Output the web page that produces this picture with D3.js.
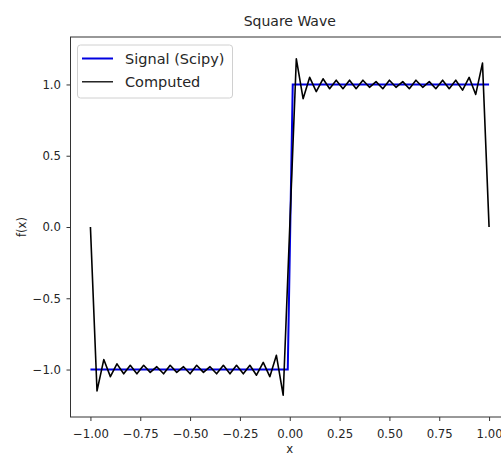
<!DOCTYPE html>
<html>
<head>
<meta charset="utf-8">
<script src="https://cdn.jsdelivr.net/npm/d3@7"></script>
<style>
body { margin: 0; background: #fff; }
text { font-family: "DejaVu Sans", sans-serif; fill: #262626; }
</style>
</head>
<body>
<script>
// sample points of the computed (fourier) curve
var xs = [-1, -0.967, -0.933, -0.9, -0.867, -0.833, -0.8, -0.767, -0.733, -0.7,
	-0.667, -0.633, -0.6, -0.567, -0.533, -0.5, -0.467, -0.433, -0.4, -0.367,
	-0.333, -0.3, -0.267, -0.233, -0.2, -0.167, -0.133, -0.1, -0.067, -0.033,
	0, 0.033, 0.067, 0.1, 0.133, 0.167, 0.2, 0.233, 0.267, 0.3,
	0.333, 0.367, 0.4, 0.433, 0.467, 0.5, 0.533, 0.567, 0.6, 0.633,
	0.667, 0.7, 0.733, 0.767, 0.8, 0.833, 0.867, 0.9, 0.933, 0.967, 1];
var computed = [0, -1.15, -0.93, -1.05, -0.96, -1.03, -0.97, -1.03, -0.97, -1.02,
	-0.98, -1.03, -0.97, -1.02, -0.98, -1.03, -0.97, -1.02, -0.98, -1.03,
	-0.97, -1.03, -0.97, -1.03, -0.97, -1.04, -0.95, -1.05, -0.90, -1.18,
	0, 1.18, 0.90, 1.05, 0.95, 1.04, 0.97, 1.03, 0.97, 1.03,
	0.97, 1.03, 0.98, 1.02, 0.97, 1.03, 0.98, 1.02, 0.97, 1.03,
	0.98, 1.02, 0.97, 1.03, 0.97, 1.03, 0.96, 1.05, 0.93, 1.15, 0];

// scipy square signal
var signalX = [-1, -0.01, 0.015, 1];
var signalY = [-1, -1, 1, 1];

var xTicks = [-1, -0.75, -0.5, -0.25, 0, 0.25, 0.5, 0.75, 1];
var yTicks = [-1, -0.5, 0, 0.5, 1];

var margin = {top: 37, right: -8, bottom: 42, left: 70.5};
var width = 501 - margin.left - margin.right;
var height = 459 - margin.top - margin.bottom;

var svg = d3.select("body").append("svg")
	.attr("width", 501)
	.attr("height", 459)
	.append("g")
	.attr("transform", "translate(" + margin.left + "," + margin.top + ")");

var x = d3.scaleLinear().domain([-1.1, 1.1]).range([0, width]);
var y = d3.scaleLinear().domain([-1.333, 1.333]).range([height, 0]);

var line = d3.line()
	.x(function(d) { return x(d[0]); })
	.y(function(d) { return y(d[1]); });

svg.append("path")
	.datum(signalX.map(function(v, i) { return [v, signalY[i]]; }))
	.attr("fill", "none")
	.attr("stroke", "#0000e0")
	.attr("stroke-width", 2)
	.attr("d", line);

svg.append("path")
	.datum(xs.map(function(v, i) { return [v, computed[i]]; }))
	.attr("fill", "none")
	.attr("stroke", "#000")
	.attr("stroke-width", 1.6)
	.attr("stroke-linejoin", "round")
	.attr("d", line);

var xAxis = svg.append("g")
	.attr("transform", "translate(0," + height + ")")
	.call(d3.axisBottom(x).tickValues(xTicks).tickFormat(d3.format(".2f")).tickSize(4).tickPadding(8.5));

var yAxis = svg.append("g")
	.call(d3.axisLeft(y).tickValues(yTicks).tickFormat(d3.format(".1f")).tickSize(4).tickPadding(5.5));

[xAxis, yAxis].forEach(function(a) {
	a.select(".domain").remove();
	a.selectAll("line").attr("stroke", "#333");
	a.selectAll("text").attr("font-size", "11.7px").attr("font-family", "DejaVu Sans").attr("fill", "#262626");
});

// frame
svg.append("rect")
	.attr("width", width)
	.attr("height", height)
	.attr("fill", "none")
	.attr("stroke", "#333")
	.attr("stroke-width", 1);

svg.append("text")
	.attr("x", x(0))
	.attr("y", -11)
	.attr("text-anchor", "middle")
	.attr("font-size", "14px")
	.text("Square Wave");

svg.append("text")
	.attr("x", x(0))
	.attr("y", height + 36)
	.attr("text-anchor", "middle")
	.attr("font-size", "11.7px")
	.text("x");

svg.append("text")
	.attr("transform", "translate(" + (26 - margin.left) + "," + y(0) + ") rotate(-90)")
	.attr("text-anchor", "middle")
	.attr("font-size", "11.7px")
	.text("f(x)");

// legend
var legend = svg.append("g").attr("transform", "translate(7,8)");
legend.append("rect")
	.attr("width", 155)
	.attr("height", 53)
	.attr("rx", 3)
	.attr("fill", "#fff")
	.attr("fill-opacity", 0.8)
	.attr("stroke", "#d0d0d0");

var items = [{name: "Signal (Scipy)", color: "#0000e0", w: 2}, {name: "Computed", color: "#000", w: 1.3}];
items.forEach(function(d, i) {
	var yy = 13.5 + i * 23.3;
	legend.append("line")
		.attr("x1", 4.5).attr("x2", 35.5)
		.attr("y1", yy).attr("y2", yy)
		.attr("stroke", d.color)
		.attr("stroke-width", d.w);
	legend.append("text")
		.attr("x", 47.5)
		.attr("y", yy)
		.attr("dy", "0.36em")
		.attr("font-size", "14.5px")
		.text(d.name);
});
</script>
</body>
</html>
